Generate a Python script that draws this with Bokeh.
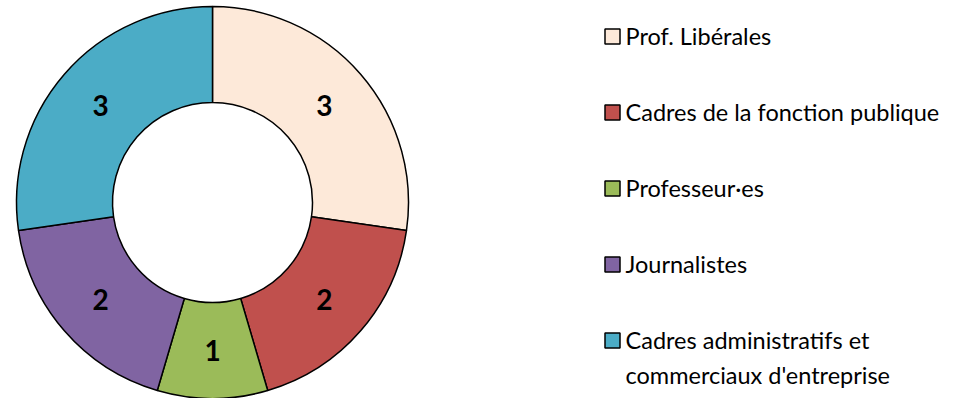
import numpy as np
from bokeh.plotting import figure
from bokeh.models import Range1d, ColumnDataSource
from bokeh.core.properties import value
from bokeh.embed import file_html
from bokeh.resources import INLINE

categories = ["Prof. Libérales", "Cadres de la fonction publique", "Professeur·es",
              "Journalistes", "Cadres administratifs et\ncommerciaux d'entreprise"]
counts = [3, 2, 1, 2, 3]
colors = ["#FDE9D9", "#C0504D", "#9BBB59", "#8064A2", "#4BACC6"]

W, H = 947, 398
p = figure(width=W, height=H, output_backend="svg", toolbar_location=None,
           x_range=Range1d(0, W), y_range=Range1d(0, H), min_border=0)
p.axis.visible = False
p.grid.visible = False
p.outline_line_color = None

# page y -> data y
def py(v):
    return H - np.asarray(v, dtype=float)

cx, cy = 212, py(202)
r_out, r_in = 196, 100

vals = np.array(counts, dtype=float)
frac = vals / vals.sum()
cum = np.concatenate([[0], np.cumsum(frac)])
start = np.pi / 2 - cum[:-1] * 2 * np.pi
end = np.pi / 2 - cum[1:] * 2 * np.pi
mid = (start + end) / 2
rm = (r_in + r_out) / 2

src = ColumnDataSource(dict(start=start, end=end, color=colors,
                            lx=cx + rm * np.cos(mid), ly=cy + rm * np.sin(mid),
                            lab=[str(c) for c in counts]))
p.annular_wedge(x=cx, y=cy, inner_radius=r_in, outer_radius=r_out,
                start_angle="start", end_angle="end", direction="clock",
                fill_color="color", line_color="black", line_width=1.5, source=src)
p.text(x="lx", y="ly", text="lab", source=src, text_align="center",
       text_baseline="middle", text_font=value("Lato"), text_font_style="bold",
       text_font_size="28px", text_color="black")

# legend
rows = np.arange(len(categories))
row_c = 36 + rows * 76
lsrc = ColumnDataSource(dict(x=[612] * len(categories), y=py(row_c), color=colors,
                             tx=[625] * len(categories), ty=py(row_c - 15), lab=categories))
p.rect(x="x", y="y", width=15, height=15, fill_color="color", line_color="black",
       line_width=1.5, source=lsrc)
p.text(x="tx", y="ty", text="lab", source=lsrc, text_align="left", text_baseline="top",
       text_font=value("Lato"), text_font_size="23.5px", text_color="black",
       text_line_height=1.25)

open("out.html", "w").write(file_html(p, INLINE))
